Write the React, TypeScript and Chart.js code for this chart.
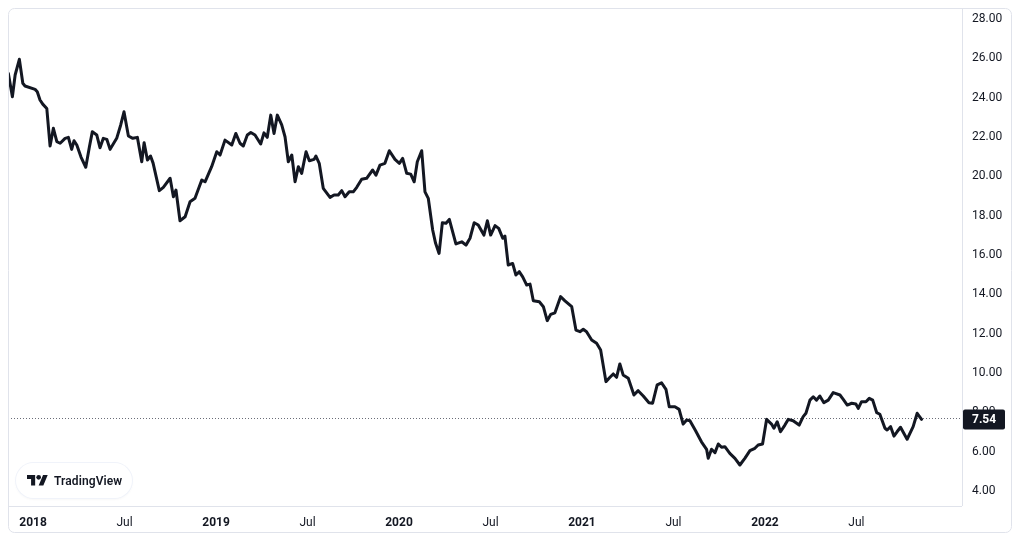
import { useEffect, useRef } from 'react';
import { Chart, registerables } from 'chart.js';

Chart.register(...registerables);

// weekly closes, x as decimal year
const weekPositions = [
  2017.865, 2017.887, 2017.902, 2017.925, 2017.944, 2017.956, 2018.011, 2018.023, 2018.038, 2018.053,
  2018.075, 2018.093, 2018.111, 2018.13, 2018.148, 2018.175, 2018.193, 2018.211, 2018.224, 2018.239,
  2018.262, 2018.288, 2018.308, 2018.324, 2018.348, 2018.366, 2018.384, 2018.403, 2018.421, 2018.457,
  2018.479, 2018.497, 2018.521, 2018.545, 2018.57, 2018.594, 2018.607, 2018.625, 2018.642, 2018.656,
  2018.69, 2018.712, 2018.749, 2018.767, 2018.781, 2018.803, 2018.831, 2018.858, 2018.885, 2018.922,
  2018.94, 2018.976, 2019.004, 2019.022, 2019.049, 2019.086, 2019.108, 2019.131, 2019.149, 2019.171,
  2019.19, 2019.213, 2019.244, 2019.262, 2019.28, 2019.299, 2019.317, 2019.335, 2019.359, 2019.377,
  2019.395, 2019.414, 2019.432, 2019.45, 2019.468, 2019.492, 2019.51, 2019.536, 2019.546, 2019.564,
  2019.586, 2019.623, 2019.645, 2019.668, 2019.687, 2019.705, 2019.728, 2019.75, 2019.769, 2019.796,
  2019.823, 2019.856, 2019.874, 2019.896, 2019.923, 2019.947, 2019.978, 2020.002, 2020.02, 2020.042,
  2020.064, 2020.083, 2020.1, 2020.124, 2020.142, 2020.16, 2020.184, 2020.2, 2020.219, 2020.237,
  2020.257, 2020.275, 2020.311, 2020.343, 2020.366, 2020.388, 2020.411, 2020.433, 2020.464, 2020.483,
  2020.501, 2020.525, 2020.545, 2020.567, 2020.579, 2020.597, 2020.621, 2020.639, 2020.657, 2020.676,
  2020.698, 2020.716, 2020.734, 2020.767, 2020.789, 2020.81, 2020.829, 2020.852, 2020.883, 2020.907,
  2020.944, 2020.967, 2020.989, 2021.007, 2021.025, 2021.053, 2021.08, 2021.102, 2021.131, 2021.153,
  2021.171, 2021.189, 2021.207, 2021.225, 2021.253, 2021.284, 2021.307, 2021.335, 2021.366, 2021.386,
  2021.411, 2021.435, 2021.459, 2021.477, 2021.508, 2021.531, 2021.553, 2021.572, 2021.59, 2021.621,
  2021.653, 2021.681, 2021.69, 2021.708, 2021.727, 2021.745, 2021.763, 2021.781, 2021.808, 2021.836,
  2021.863, 2021.89, 2021.918, 2021.945, 2021.963, 2021.987, 2022.009, 2022.036, 2022.049, 2022.067,
  2022.085, 2022.109, 2022.127, 2022.154, 2022.187, 2022.209, 2022.224, 2022.246, 2022.264, 2022.282,
  2022.3, 2022.322, 2022.346, 2022.373, 2022.41, 2022.428, 2022.45, 2022.474, 2022.497, 2022.51,
  2022.528, 2022.552, 2022.57, 2022.589, 2022.611, 2022.628, 2022.656, 2022.668, 2022.687, 2022.705,
  2022.722, 2022.741, 2022.777, 2022.81, 2022.832, 2022.856,
];

const closePrices = [
  25.13, 23.94, 25.05, 25.85, 24.63, 24.49, 24.32, 24.2, 23.78, 23.57,
  23.35, 21.44, 22.34, 21.66, 21.58, 21.83, 21.88, 21.27, 21.71, 21.49,
  20.88, 20.36, 21.4, 22.17, 22.0, 21.35, 21.83, 21.78, 21.27, 21.83,
  22.51, 23.18, 21.95, 21.83, 21.88, 20.64, 21.61, 20.73, 20.93, 20.57,
  19.17, 19.34, 19.8, 18.86, 19.2, 17.64, 17.84, 18.61, 18.78, 19.71,
  19.62, 20.39, 21.15, 20.98, 21.74, 21.49, 22.08, 21.58, 21.44, 22.0,
  22.13, 22.0, 21.54, 22.11, 21.88, 23.01, 22.08, 23.01, 22.51, 21.91,
  20.64, 20.98, 19.62, 20.39, 20.05, 21.15, 20.69, 20.76, 20.93, 20.56,
  19.29, 18.83, 18.95, 18.95, 19.17, 18.86, 19.11, 19.11, 19.34, 19.75,
  19.8, 20.22, 19.96, 20.47, 20.56, 21.2, 20.76, 20.56, 20.81, 20.05,
  20.01, 19.62, 20.64, 21.2, 19.11, 18.78, 17.17, 16.49, 15.98, 17.54,
  17.51, 17.71, 16.46, 16.57, 16.4, 16.75, 17.54, 17.42, 16.91, 17.64,
  16.91, 17.39, 17.25, 16.75, 16.86, 15.39, 15.47, 14.88, 15.05, 14.79,
  14.37, 14.42, 13.57, 13.52, 13.27, 12.56, 12.88, 12.96, 13.78, 13.57,
  13.27, 12.08, 12.0, 12.12, 12.0, 11.58, 11.41, 11.07, 9.46, 9.68,
  9.85, 9.68, 10.36, 9.8, 9.63, 8.78, 9.0, 8.73, 8.39, 8.36,
  9.29, 9.4, 9.07, 8.18, 8.18, 8.05, 7.3, 7.51, 7.47, 6.96,
  6.4, 6.02, 5.56, 6.02, 5.85, 6.29, 6.12, 6.15, 5.81, 5.56,
  5.22, 5.56, 5.95, 6.07, 6.24, 6.29, 7.54, 7.3, 7.09, 7.42,
  6.91, 7.25, 7.54, 7.47, 7.25, 7.68, 7.85, 8.52, 8.69, 8.52,
  8.73, 8.39, 8.52, 8.9, 8.78, 8.56, 8.27, 8.36, 8.32, 8.1,
  8.44, 8.44, 8.61, 8.52, 7.88, 7.8, 7.09, 7.0, 7.17, 6.69,
  6.91, 7.14, 6.53, 7.17, 7.85, 7.54,
];

const priceTicks = [4, 6, 8, 10, 12, 14, 16, 18, 20, 22, 24, 26, 28];
const timeTicks = [2018, 2018.5, 2019, 2019.5, 2020, 2020.5, 2021, 2021.5, 2022, 2022.5];
const timeLabels = ['2018', 'Jul', '2019', 'Jul', '2020', 'Jul', '2021', 'Jul', '2022', 'Jul'];
const lastPrice = 7.54;

const FONT = 'Roboto, "DejaVu Sans", sans-serif';
const INK = '#131722';
const EDGE = '#e0e3eb';

const paneDecor = {
  id: 'paneDecor',
  beforeDatasetsDraw(chart: any) {
    const { ctx, chartArea, scales } = chart;
    const y = Math.round(scales.y.getPixelForValue(lastPrice)) - 0.5;
    ctx.save();
    ctx.strokeStyle = '#6a6d78';
    ctx.lineWidth = 1;
    ctx.setLineDash([1, 2]);
    ctx.beginPath();
    ctx.moveTo(chartArea.left, y);
    ctx.lineTo(chartArea.right, y);
    ctx.stroke();
    ctx.restore();
  },
  afterDraw(chart: any) {
    const { ctx, chartArea, scales, width, height } = chart;
    ctx.save();
    ctx.strokeStyle = EDGE;
    ctx.lineWidth = 1;
    ctx.beginPath();
    ctx.roundRect(0.5, 0.5, width - 1, height - 1, 6);
    ctx.stroke();
    ctx.beginPath();
    ctx.moveTo(chartArea.right + 0.5, 0);
    ctx.lineTo(chartArea.right + 0.5, chartArea.bottom);
    ctx.moveTo(0, chartArea.bottom + 0.5);
    ctx.lineTo(chartArea.right, chartArea.bottom + 0.5);
    ctx.stroke();

    // last price badge
    const y = scales.y.getPixelForValue(lastPrice);
    ctx.fillStyle = INK;
    ctx.beginPath();
    ctx.roundRect(chartArea.right + 1, y - 10, 42, 20, 2);
    ctx.fill();
    ctx.fillStyle = '#ffffff';
    ctx.font = `bold 12px ${FONT}`;
    ctx.textBaseline = 'middle';
    ctx.textAlign = 'left';
    ctx.fillText(lastPrice.toFixed(2), chartArea.right + 10, y + 1);
    ctx.restore();
  },
};

export default function App() {
  const canvasRef = useRef<HTMLCanvasElement>(null);

  useEffect(() => {
    const ctx = canvasRef.current?.getContext('2d');
    if (!ctx) return;

    const chart = new Chart(ctx, {
      type: 'line',
      data: {
        datasets: [{
          data: weekPositions.map((x, i) => ({ x, y: closePrices[i] })),
          borderColor: INK,
          borderWidth: 3,
          borderJoinStyle: 'round',
          borderCapStyle: 'round',
          pointRadius: 0,
          tension: 0,
          fill: false,
        }],
      },
      options: {
        animation: false,
        responsive: false,
        events: [],
        layout: { padding: 0 },
        plugins: { legend: { display: false }, tooltip: { enabled: false } },
        scales: {
          x: {
            type: 'linear',
            min: 2017.863,
            max: 2023.077,
            grid: { display: false, drawTicks: false },
            border: { display: false },
            afterBuildTicks: (s: any) => { s.ticks = timeTicks.map(value => ({ value })); },
            afterFit: (s: any) => { s.height = 27; s.paddingLeft = 0; s.paddingRight = 0; },
            ticks: {
              autoSkip: false,
              maxRotation: 0,
              padding: 10,
              color: INK,
              font: (c: any) => ({
                family: FONT,
                size: 12,
                weight: Number.isInteger(c.tick?.value) ? 'bold' : 'normal',
              }),
              callback: (_v: any, i: number) => timeLabels[i],
            },
          },
          y: {
            position: 'right',
            min: 3.136,
            max: 28.457,
            grid: { display: false, drawTicks: false },
            border: { display: false },
            afterBuildTicks: (s: any) => { s.ticks = priceTicks.map(value => ({ value })); },
            afterFit: (s: any) => { s.width = 50; s.paddingTop = 0; s.paddingBottom = 0; },
            ticks: {
              padding: 10,
              labelOffset: 2,
              color: INK,
              font: { family: FONT, size: 12 },
              callback: (v: any) => Number(v).toFixed(2),
            },
          },
        },
      },
      plugins: [paneDecor],
    });

    return () => chart.destroy();
  }, []);

  return (
    <div style={{ position: 'relative', width: 1004, height: 525, background: '#fff' }}>
      <canvas ref={canvasRef} width={1004} height={525} style={{ display: 'block' }} />
      <div
        style={{
          position: 'absolute',
          left: 8,
          top: 455,
          width: 116,
          height: 35,
          borderRadius: 18,
          background: '#fff',
          boxShadow: '0 0 0 1px #f0f3fa, 0 1px 3px rgba(19,23,34,0.06)',
          display: 'flex',
          alignItems: 'center',
          boxSizing: 'border-box',
          paddingLeft: 11,
          fontFamily: FONT,
        }}
      >
        <svg width={21} height={10.5} viewBox="0 4 36 18" style={{ display: 'block' }}>
          <path d="M14 22H7V11H0V4h14v18zM28 22h-8l7.5-18h8L28 22z" fill={INK} />
          <circle cx={20} cy={8} r={4} fill={INK} />
        </svg>
        <span style={{ marginLeft: 6, fontSize: 12, fontWeight: 600, color: INK, letterSpacing: 0.1 }}>
          TradingView
        </span>
      </div>
    </div>
  );
}
